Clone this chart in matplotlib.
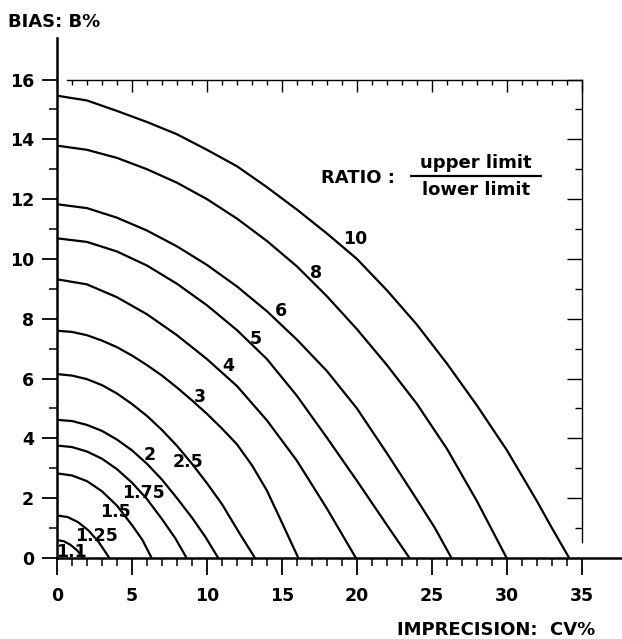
import matplotlib
matplotlib.use("Agg")
import matplotlib.pyplot as plt
import matplotlib.ticker as ticker

# ratio (upper limit / lower limit) of each curve
ratios = ["1.1", "1.25", "1.5", "1.75", "2", "2.5", "3", "4", "5", "6", "8", "10"]

# imprecision CV% and bias B%
cv_1_1 = [0, 0.45, 0.9, 1.35, 1.76]
bias_1_1 = [0.6, 0.56, 0.44, 0.25, 0]
cv_1_25 = [0, 0.7, 1.4, 2.1, 2.8, 3.49]
bias_1_25 = [1.42, 1.37, 1.2, 0.92, 0.52, 0]
cv_1_5 = [0, 1, 2, 3, 4, 5, 5.7, 6.31]
bias_1_5 = [2.83, 2.76, 2.57, 2.23, 1.75, 1.1, 0.6, 0]
cv_1_75 = [0, 1, 2, 3, 4, 5, 6, 7, 7.9, 8.64]
bias_1_75 = [3.76, 3.71, 3.56, 3.32, 2.97, 2.52, 1.97, 1.3, 0.65, 0]
cv_2 = [0, 1, 2, 3, 4, 5, 6, 7, 8, 9, 9.9, 10.75]
bias_2 = [4.62, 4.58, 4.45, 4.25, 3.96, 3.6, 3.15, 2.62, 2.0, 1.35, 0.7, 0]
cv_2_5 = [0, 1, 2, 3, 4, 5, 6, 7, 8, 9, 10, 11, 12.2, 13.2]
bias_2_5 = [6.15, 6.1, 5.98, 5.78, 5.5, 5.15, 4.75, 4.28, 3.75, 3.15, 2.5, 1.8, 0.8, 0]
cv_3 = [0, 1, 2, 3, 4, 5, 6, 7, 8, 9, 10, 11, 12, 13, 14, 15, 16.09]
bias_3 = [7.6, 7.56, 7.45, 7.27, 7.05, 6.77, 6.45, 6.1, 5.7, 5.27, 4.82, 4.33, 3.8,
          3.1, 2.25, 1.18, 0]
cv_4 = [0, 2, 4, 6, 8, 10, 12, 14, 16, 18, 19.93]
bias_4 = [9.32, 9.15, 8.72, 8.15, 7.45, 6.65, 5.75, 4.6, 3.25, 1.65, 0]
cv_5 = [0, 2, 4, 6, 8, 10, 12, 14, 16, 18, 20, 22, 23.5]
bias_5 = [10.69, 10.57, 10.25, 9.78, 9.17, 8.45, 7.62, 6.65, 5.42, 4.02, 2.58, 1.1, 0]
cv_6 = [0, 2, 4, 6, 8, 10, 12, 14, 16, 18, 20, 22, 24, 25.2, 26.3]
bias_6 = [11.83, 11.7, 11.38, 10.95, 10.42, 9.8, 9.08, 8.25, 7.3, 6.25, 5.0, 3.5, 1.95, 1.0, 0]
cv_8 = [0, 2, 4, 6, 8, 10, 12, 14, 16, 18, 20, 22, 24, 26, 28, 29.98]
bias_8 = [13.79, 13.65, 13.38, 13.0, 12.55, 12.0, 11.35, 10.6, 9.75, 8.75, 7.65,
          6.45, 5.15, 3.65, 1.9, 0]
cv_10 = [0, 2, 4, 6, 8, 10, 12, 14, 16, 18, 20, 22, 24, 26, 28, 30, 32, 33, 34.15]
bias_10 = [15.46, 15.3, 14.95, 14.58, 14.17, 13.65, 13.1, 12.4, 11.65, 10.85, 10.0,
           8.95, 7.8, 6.5, 5.1, 3.6, 1.9, 1.0, 0]

curves = {
    "1.1": (cv_1_1, bias_1_1), "1.25": (cv_1_25, bias_1_25),
    "1.5": (cv_1_5, bias_1_5), "1.75": (cv_1_75, bias_1_75),
    "2": (cv_2, bias_2), "2.5": (cv_2_5, bias_2_5), "3": (cv_3, bias_3),
    "4": (cv_4, bias_4), "5": (cv_5, bias_5), "6": (cv_6, bias_6),
    "8": (cv_8, bias_8), "10": (cv_10, bias_10),
}

# where each ratio label sits (data coords)
label_pos = {
    "1.1": (0.98, 0.21), "1.25": (2.64, 0.74), "1.5": (3.87, 1.55),
    "1.75": (5.75, 2.16), "2": (6.2, 3.44), "2.5": (8.75, 3.22),
    "3": (9.53, 5.37), "4": (11.44, 6.43), "5": (13.27, 7.32),
    "6": (14.93, 8.26), "8": (17.27, 9.52), "10": (19.87, 10.66),
}

FS = 12.5
plt.rcParams["font.family"] = "DejaVu Sans"
plt.rcParams["font.weight"] = "bold"

fig = plt.figure(figsize=(6.22, 6.39), dpi=100)
ax = fig.add_axes([0, 0, 1, 1])
ax.set_xlim(-3.8, 37.67)
ax.set_ylim(-2.709, 18.66)

for r in ratios:
    cv, b = curves[r]
    ax.plot(cv, b, color="black", linewidth=1.6, solid_joinstyle="round",
            solid_capstyle="butt")
    ax.text(*label_pos[r], r, fontsize=FS, fontweight="bold",
            ha="center", va="center")

# main (left / bottom) axes
for s in ["top", "right"]:
    ax.spines[s].set_visible(False)
ax.spines["left"].set_position(("data", 0))
ax.spines["bottom"].set_position(("data", 0))
ax.spines["left"].set_bounds(0, 17.4)
ax.spines["bottom"].set_bounds(0, 37.67)
ax.spines["left"].set_linewidth(1.8)
ax.spines["bottom"].set_linewidth(1.8)

ax.xaxis.set_major_locator(ticker.FixedLocator(range(0, 36, 5)))
ax.xaxis.set_minor_locator(ticker.FixedLocator(range(0, 36)))
ax.yaxis.set_major_locator(ticker.FixedLocator(range(0, 17, 2)))
ax.yaxis.set_minor_locator(ticker.FixedLocator(range(0, 17)))
ax.tick_params(axis="x", which="major", direction="out", length=12, width=1.3,
               pad=9, labelsize=FS)
ax.tick_params(axis="x", which="minor", direction="out", length=5.5, width=1.1)
ax.tick_params(axis="y", which="major", direction="out", length=10.5, width=1.3,
               pad=6, labelsize=FS)
ax.tick_params(axis="y", which="minor", direction="out", length=5.5, width=1.1)
for lab in ax.get_xticklabels() + ax.get_yticklabels():
    lab.set_fontweight("bold")

# thin top / right frame with inward ticks
top = ax.secondary_xaxis(16, transform=ax.transData)
top.xaxis.set_major_locator(ticker.FixedLocator(range(5, 36, 5)))
top.xaxis.set_minor_locator(ticker.FixedLocator(range(1, 35)))
top.tick_params(which="major", direction="in", length=8.5, width=1.0, labeltop=False)
top.tick_params(which="minor", direction="in", length=3.8, width=1.0)
top.spines["top"].set_bounds(0.64, 35)
top.spines["top"].set_linewidth(1.0)

right = ax.secondary_yaxis(35, transform=ax.transData)
right.yaxis.set_major_locator(ticker.FixedLocator(range(2, 17, 2)))
right.yaxis.set_minor_locator(ticker.FixedLocator(range(1, 16, 2)))
right.tick_params(which="major", direction="in", length=10.5, width=1.0, labelright=False)
right.tick_params(which="minor", direction="in", length=5, width=1.0)
right.spines["right"].set_bounds(0.54, 16)
right.spines["right"].set_linewidth(1.0)

# axis titles
ax.text(-3.25, 17.93, "BIAS: B%", fontsize=13, fontweight="bold",
        ha="left", va="center")
ax.text(35.87, -2.41, "IMPRECISION:  CV%", fontsize=13, fontweight="bold",
        ha="right", va="center")

# ratio legend
ax.text(20.09, 12.7, "RATIO :", fontsize=13, fontweight="bold",
        ha="center", va="center")
ax.text(27.92, 13.2, "upper limit", fontsize=13, fontweight="bold",
        ha="center", va="center")
ax.text(27.92, 12.3, "lower limit", fontsize=13, fontweight="bold",
        ha="center", va="center")
ax.hlines(12.78, 23.53, 32.31, color="black", linewidth=1.6)

fig.savefig("out.png", dpi=100, facecolor="white")
